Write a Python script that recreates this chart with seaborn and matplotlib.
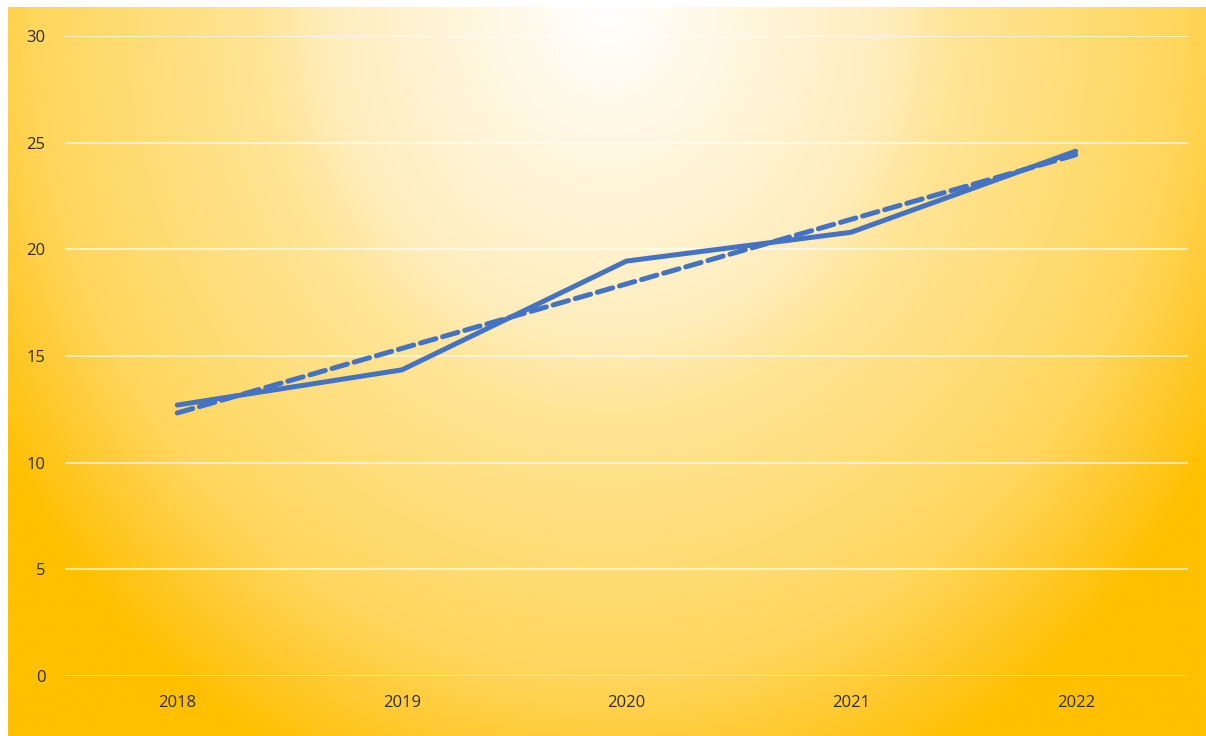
import numpy as np
import pandas as pd
import matplotlib
matplotlib.use('Agg')
import matplotlib.pyplot as plt
from matplotlib.colors import LinearSegmentedColormap
import seaborn as sns

# Data
years = ['2018', '2019', '2020', '2021', '2022']
values = [12.7, 14.35, 19.45, 20.8, 24.6]

df = pd.DataFrame({'pos': np.arange(len(years)), 'value': values})
# linear trendline like Excel's
slope, intercept = np.polyfit(df['pos'], df['value'], 1)
df['trend'] = intercept + slope * df['pos']

sns.set_theme(style='white')
plt.rcParams['font.family'] = ['Open Sans', 'DejaVu Sans']

fig = plt.figure(figsize=(12.06, 7.36), dpi=100)
fig.patch.set_facecolor('white')

# radial gradient background (white at top centre -> gold at edges)
bg = fig.add_axes([8 / 1206, 0, 1198 / 1206, 729 / 736])
bg.set_axis_off()
h, w = 365, 600
yy, xx = np.mgrid[0:h, 0:w]
cx, cy = w * 0.5, 0.0
r = np.sqrt(((xx - cx) / (w * 0.6)) ** 2 + ((yy - cy) / (h * 1.15)) ** 2)
r = np.clip(r, 0, 1)
cmap = LinearSegmentedColormap.from_list(
    'grad', [(0, '#FFFFFF'), (0.39, '#FFEDBB'), (0.48, '#FFE597'),
             (0.8, '#FFD65C'), (0.9, '#FFCA30'), (1.0, '#FFC000')])
bg.imshow(r, cmap=cmap, vmin=0, vmax=1, aspect='auto', interpolation='bilinear')

ax = fig.add_axes([65 / 1206, 60 / 736, 1123 / 1206, 640 / 736])
ax.patch.set_alpha(0)

blue = '#4472C4'
sns.lineplot(data=df, x='pos', y='value', ax=ax, color=blue, linewidth=3.6,
             solid_capstyle='round', zorder=3)
sns.lineplot(data=df, x='pos', y='trend', ax=ax, color=blue, linewidth=3.6,
             dashes=False, zorder=2)
ax.lines[-1].set_dashes((3.2, 1.4))
ax.lines[-1].set_dash_capstyle('round')

ax.set_xlim(-0.5, len(years) - 0.5)
ax.set_ylim(0, 30)
ax.set_yticks(np.arange(0, 31, 5))
ax.set_xticks(df['pos'])
ax.set_xticklabels(years)
ax.grid(axis='y', color='white', alpha=0.8, linewidth=1.1)
ax.grid(axis='x', visible=False)
ax.set_axisbelow(True)
for s in ax.spines.values():
    s.set_visible(False)
ax.tick_params(axis='both', length=0, labelsize=12, labelcolor='#2B2B2B')
ax.tick_params(axis='y', pad=14)
ax.tick_params(axis='x', pad=14)
ax.set_xlabel('')
ax.set_ylabel('')

fig.savefig('out.png', dpi=100)
